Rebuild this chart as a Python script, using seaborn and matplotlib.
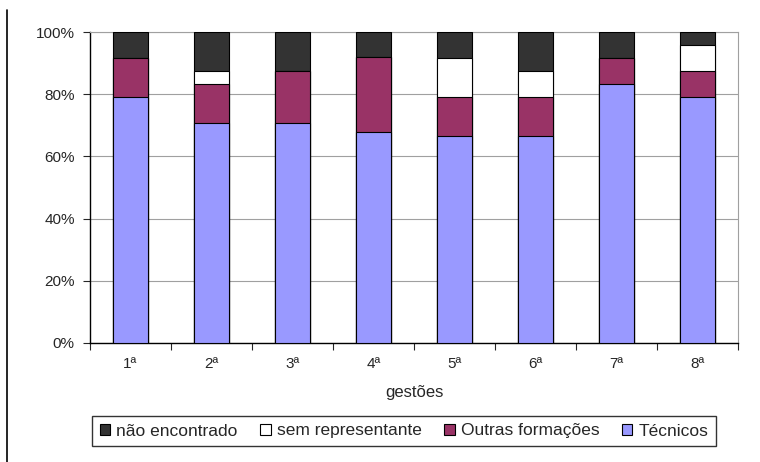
import matplotlib
matplotlib.use("Agg")
import matplotlib.pyplot as plt
import seaborn as sns
import pandas as pd
import numpy as np
from matplotlib.patches import Patch
from matplotlib.lines import Line2D

categories = ["1ª", "2ª", "3ª", "4ª", "5ª", "6ª", "7ª", "8ª"]
tecnicos = [79.2, 70.8, 70.8, 68.0, 66.7, 66.7, 83.3, 79.2]
outras = [12.5, 12.5, 16.7, 24.0, 12.5, 12.5, 8.4, 8.3]
sem_rep = [0.0, 4.2, 0.0, 0.0, 12.5, 8.3, 0.0, 8.3]
nao_enc = [8.3, 12.5, 12.5, 8.0, 8.3, 12.5, 8.3, 4.2]
series_names = ["não encontrado", "sem representante", "Outras formações", "Técnicos"]
colors = {"não encontrado": "#333333", "sem representante": "#FFFFFF",
          "Outras formações": "#993366", "Técnicos": "#9999FF"}

sns.set_style("white")
plt.rcParams["font.family"] = ["Liberation Sans", "DejaVu Sans"]

df = pd.DataFrame({"gestao": categories, "Técnicos": tecnicos,
                   "Outras formações": outras, "sem representante": sem_rep,
                   "não encontrado": nao_enc})
df["c_tec"] = df["Técnicos"]
df["c_out"] = df["c_tec"] + df["Outras formações"]
df["c_sem"] = df["c_out"] + df["sem representante"]
df["c_nao"] = df["c_sem"] + df["não encontrado"]

fig = plt.figure(figsize=(7.6, 4.62), dpi=100)
ax = fig.add_axes([90/760, 1-343/462, (738-90)/760, (343-32)/462])

for col, name in [("c_nao", "não encontrado"), ("c_sem", "sem representante"),
                  ("c_out", "Outras formações"), ("c_tec", "Técnicos")]:
    sns.barplot(data=df, x="gestao", y=col, color=colors[name], saturation=1,
                edgecolor="black", linewidth=0.8, width=0.42, ax=ax, zorder=3)

ax.set_ylim(0, 100)
ax.set_xlim(-0.5, 7.5)
ax.set_yticks(np.arange(0, 101, 20))
ax.set_yticklabels([f"{v}%" for v in range(0, 101, 20)], fontsize=11)
ax.yaxis.grid(True, color="#A0A0A0", linewidth=0.8, zorder=0)
ax.set_axisbelow(True)
ax.set_ylabel("")
ax.set_xlabel("gestões", fontsize=12, labelpad=10)
ax.tick_params(axis="x", length=0, labelsize=11, pad=10)
ax.tick_params(axis="y", length=5, direction="out", left=True, width=0.8, pad=6)
# category boundary ticks
ax.set_xticks(np.arange(-0.5, 8, 1), minor=True)
ax.tick_params(axis="x", which="minor", length=5, direction="out", bottom=True, width=0.8)
for s in ["left", "bottom"]:
    ax.spines[s].set_color("black")
    ax.spines[s].set_linewidth(1.0)
for s in ["right", "top"]:
    ax.spines[s].set_color("#A0A0A0")
    ax.spines[s].set_linewidth(0.8)

handles = [Patch(facecolor=colors[n], edgecolor="black", linewidth=0.8) for n in series_names]
leg = fig.legend(handles, series_names, loc="center", bbox_to_anchor=(404/760, 1-431/462),
                 ncol=4, frameon=True, fancybox=False, edgecolor="black", fontsize=12.5,
                 handlelength=0.6, handleheight=0.6, handletextpad=0.35, columnspacing=1.3,
                 borderpad=0.45)
leg.get_frame().set_linewidth(1.0)

fig.add_artist(Line2D([7/760, 7/760], [0, 1-10/462], color="black", linewidth=1.2,
                      transform=fig.transFigure))

fig.savefig("out.png", dpi=100)
